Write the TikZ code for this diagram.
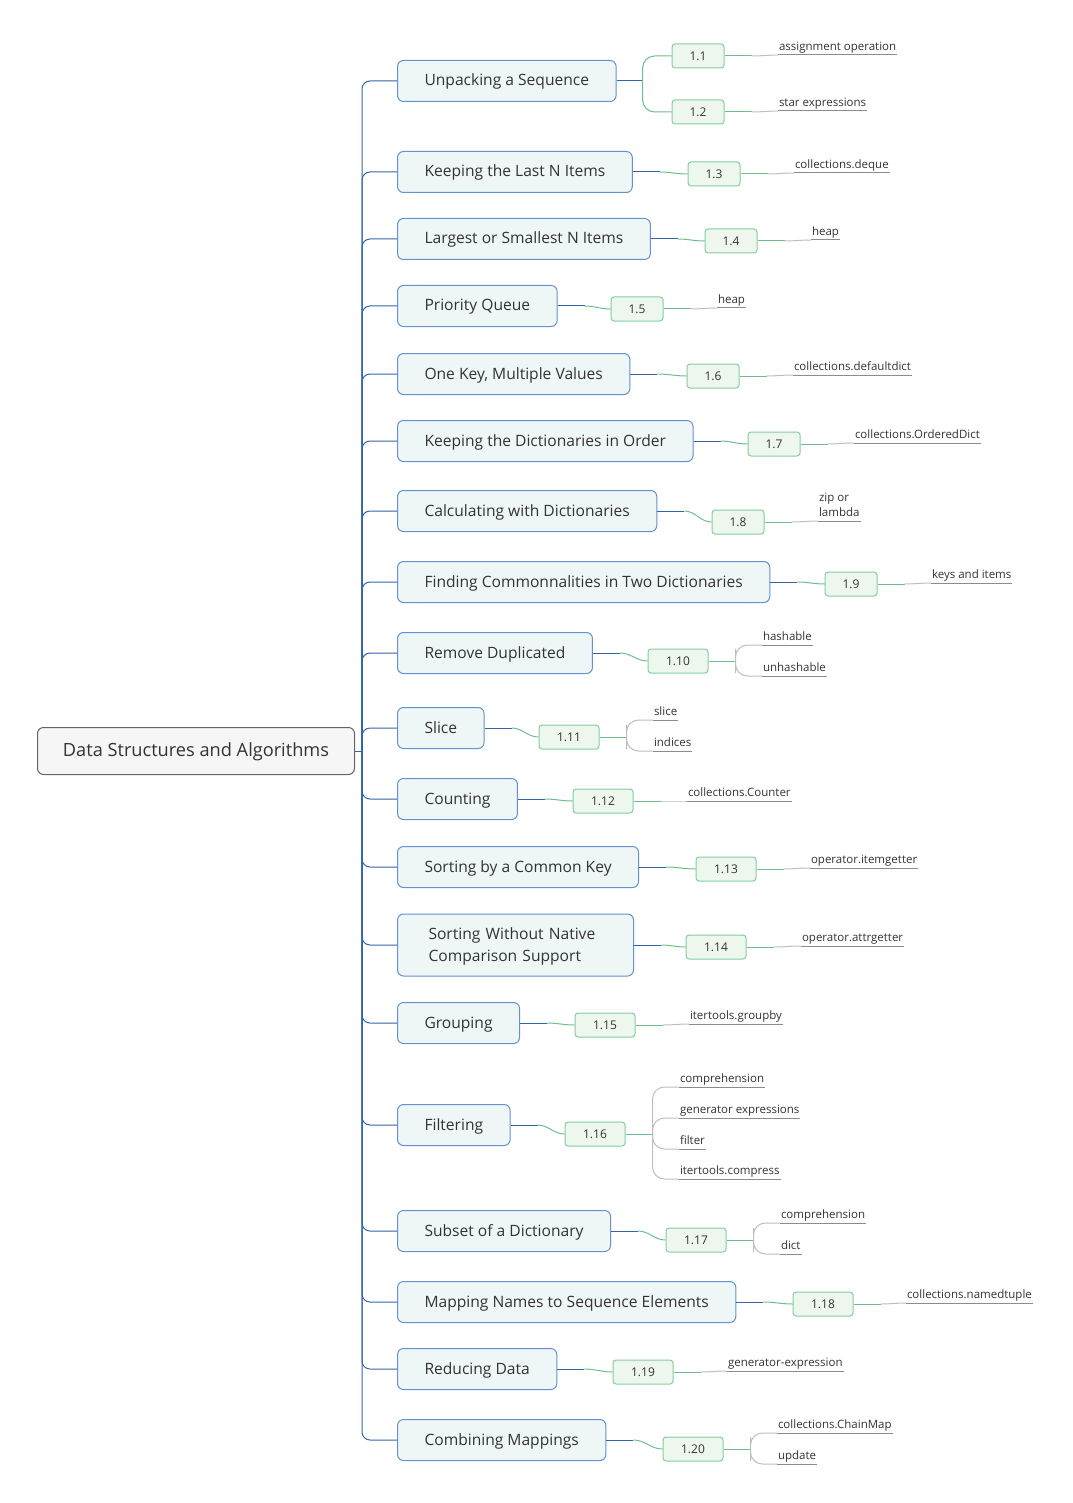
\documentclass[tikz,border=0pt]{standalone}
\usepackage{fontspec}
\setmainfont{Open Sans}
\definecolor{txt}{RGB}{51,51,51}
\definecolor{trunkblue}{RGB}{52,101,164}
\definecolor{topicline}{RGB}{98,146,209}
\definecolor{topicfill}{RGB}{239,246,246}
\definecolor{rootline}{RGB}{100,100,100}
\definecolor{rootfill}{RGB}{246,246,246}
\definecolor{numline}{RGB}{130,205,160}
\definecolor{numfill}{RGB}{238,247,238}
\definecolor{greenline}{RGB}{110,190,140}
\definecolor{greyline}{RGB}{190,190,190}
\definecolor{underline}{RGB}{140,140,140}
\begin{document}
\begin{tikzpicture}[x=1pt,y=-1pt,line width=1pt,
    myroot/.style={draw=rootline,fill=rootfill,rounded corners=6pt,text=txt,
      minimum width=317pt,minimum height=47pt,text height=14pt,text depth=3pt,
      font=\fontsize{18.2}{22}\selectfont},
    mytopic/.style={draw=topicline,fill=topicfill,rounded corners=6pt,text=txt,
      anchor=west,minimum height=41pt,inner xsep=27pt,text height=12.5pt,text depth=2.5pt,
      font=\fontsize{15.6}{22}\selectfont},
    mynum/.style={draw=numline,fill=numfill,rounded corners=3pt,text=txt,
      minimum width=52pt,minimum height=24pt,inner sep=0pt,
      font=\fontsize{12}{14}\selectfont},
    mywide/.style={mynum,minimum width=60pt},
    myleaf/.style={anchor=south west,inner xsep=0.5pt,inner ysep=1.5pt,
      text height=8.5pt,text depth=2.5pt,text=txt,
      font=\fontsize{11.5}{15}\selectfont},
    bl/.style={draw=trunkblue},
    gr/.style={draw=greenline},
    gy/.style={draw=greyline},
    ul/.style={draw=underline}]
  \useasboundingbox (0,0) rectangle (1072,1503);
  % root and first level
  \node[myroot] at (196,751) (A0) {Data Structures and Algorithms};
  \node[mytopic] at (397,81) (B1) {Unpacking a Sequence};
  \node[mytopic] at (397,172) (B2) {Keeping the Last N Items};
  \node[mytopic] at (397,239) (B3) {Largest or Smallest N Items};
  \node[mytopic] at (397,306) (B4) {Priority Queue};
  \node[mytopic] at (397,374) (B5) {One Key, Multiple Values};
  \node[mytopic] at (397,441) (B6) {Keeping the Dictionaries in Order};
  \node[mytopic] at (397,511) (B7) {Calculating with Dictionaries};
  \node[mytopic] at (397,582) (B8) {Finding Commonnalities in Two Dictionaries};
  \node[mytopic] at (397,653) (B9) {Remove Duplicated};
  \node[mytopic] at (397,728) (B10) {Slice};
  \node[mytopic] at (397,799) (B11) {Counting};
  \node[mytopic] at (397,867) (B12) {Sorting by a Common Key};
  \node[mytopic,align=left,text width=174pt,minimum height=62pt,inner xsep=31pt,
    text height=12pt,text depth=24pt] at (397,945) (B13)
    {Sorting Without Native\\Comparison Support};
  \node[mytopic] at (397,1023) (B14) {Grouping};
  \node[mytopic] at (397,1125) (B15) {Filtering};
  \node[mytopic] at (397,1231) (B16) {Subset of a Dictionary};
  \node[mytopic] at (397,1302) (B17) {Mapping Names to Sequence Elements};
  \node[mytopic] at (397,1369) (B18) {Reducing Data};
  \node[mytopic] at (397,1440) (B19) {Combining Mappings};
  \draw[bl] (A0.east) -- (362,751);
  \foreach \i in {1,...,19}
    \draw[bl,rounded corners=8pt] (362,751) |- (B\i.west);
  % numbers
  \node[mynum] at (698,56) (C1) {1.1};
  \node[mynum] at (698,112) (C2) {1.2};
  \node[mynum] at (714,174) (C3) {1.3};
  \node[mynum] at (731,241) (C4) {1.4};
  \node[mynum] at (637,309) (C5) {1.5};
  \node[mynum] at (713,376) (C6) {1.6};
  \node[mynum] at (774,444) (C7) {1.7};
  \node[mynum] at (738,522) (C8) {1.8};
  \node[mynum] at (851,584) (C9) {1.9};
  \node[mywide] at (678,661) (C10) {1.10};
  \node[mywide] at (569,737) (C11) {1.11};
  \node[mywide] at (603,801) (C12) {1.12};
  \node[mywide] at (726,869) (C13) {1.13};
  \node[mywide] at (716,947) (C14) {1.14};
  \node[mywide] at (605,1025) (C15) {1.15};
  \node[mywide] at (595,1134) (C16) {1.16};
  \node[mywide] at (696,1240) (C17) {1.17};
  \node[mywide] at (823,1304) (C18) {1.18};
  \node[mywide] at (643,1372) (C19) {1.19};
  \node[mywide] at (693,1449) (C20) {1.20};
  \draw[bl] (B1.east) -- ++(26,0) coordinate (S1);
  \draw[gr,rounded corners=12pt] (C1.west) -| (S1) |- (C2.west);
  \foreach \a/\b in {B2/C3,B3/C4,B4/C5,B5/C6,B6/C7,B7/C8,B8/C9,B9/C10,B10/C11,
      B11/C12,B12/C13,B13/C14,B14/C15,B15/C16,B16/C17,B17/C18,B18/C19,B19/C20} {
    \draw[bl] (\a.east) -- ++(27,0) coordinate (S\a);
    \draw[gr] (S\a) to[out=0,in=180] (\b.west);
  }
  % leaves
  \node[myleaf] at (778,55) (D1) {assignment operation};
  \node[myleaf] at (778,111) (D2) {star expressions};
  \node[myleaf] at (794,173) (D3) {collections.deque};
  \node[myleaf] at (811,240) (D4) {heap};
  \node[myleaf] at (717,308) (D5) {heap};
  \node[myleaf] at (793,375) (D6) {collections.defaultdict};
  \node[myleaf] at (854,443) (D7) {collections.OrderedDict};
  \node[myleaf,align=left,text height=22pt] at (818,521) (D8) {zip or\\lambda};
  \node[myleaf] at (931,583) (D9) {keys and items};
  \node[myleaf] at (762,645) (D10a) {hashable};
  \node[myleaf] at (762,676) (D10b) {unhashable};
  \node[myleaf] at (653,720) (D11a) {slice};
  \node[myleaf] at (653,751) (D11b) {indices};
  \node[myleaf] at (687,801) (D12) {collections.Counter};
  \node[myleaf] at (810,868) (D13) {operator.itemgetter};
  \node[myleaf] at (801,946) (D14) {operator.attrgetter};
  \node[myleaf] at (689,1024) (D15) {itertools.groupby};
  \node[myleaf] at (679,1087) (D16a) {comprehension};
  \node[myleaf] at (679,1118) (D16b) {generator expressions};
  \node[myleaf] at (679,1149) (D16c) {filter};
  \node[myleaf] at (679,1179) (D16d) {itertools.compress};
  \node[myleaf] at (780,1223) (D17a) {comprehension};
  \node[myleaf] at (780,1254) (D17b) {dict};
  \node[myleaf] at (906,1303) (D18) {collections.namedtuple};
  \node[myleaf] at (727,1371) (D19) {generator-expression};
  \node[myleaf] at (777,1433) (D20a) {collections.ChainMap};
  \node[myleaf] at (777,1464) (D20b) {update};
  \foreach \a/\b in {C1/D1,C2/D2,C3/D3,C4/D4,C5/D5,C6/D6,C7/D7,C8/D8,C9/D9,
      C12/D12,C13/D13,C14/D14,C15/D15,C18/D18,C19/D19} {
    \draw[gr] (\a.east) -- ++(27,0) coordinate (T\a);
    \draw[gy] (T\a) to[out=0,in=180] (\b.south west);
  }
  \foreach \a in {C10,C11,C16,C17,C20}
    \draw[gr] (\a.east) -- ++(27,0) coordinate (T\a);
  \draw[gy,rounded corners=12pt] (D10a.south west) -| (TC10) |- (D10b.south west);
  \draw[gy,rounded corners=12pt] (D11a.south west) -| (TC11) |- (D11b.south west);
  \draw[gy,rounded corners=12pt] (D16a.south west) -| (TC16) |- (D16d.south west);
  \draw[gy,rounded corners=12pt] (TC16) |- (D16b.south west);
  \draw[gy,rounded corners=12pt] (TC16) |- (D16c.south west);
  \draw[gy,rounded corners=12pt] (D17a.south west) -| (TC17) |- (D17b.south west);
  \draw[gy,rounded corners=12pt] (D20a.south west) -| (TC20) |- (D20b.south west);
  \foreach \d in {D1,D2,D3,D4,D5,D6,D7,D8,D9,D10a,D10b,D11a,D11b,D12,D13,D14,D15,
      D16a,D16b,D16c,D16d,D17a,D17b,D18,D19,D20a,D20b}
    \draw[ul] (\d.south west) -- (\d.south east);
\end{tikzpicture}
\end{document}
